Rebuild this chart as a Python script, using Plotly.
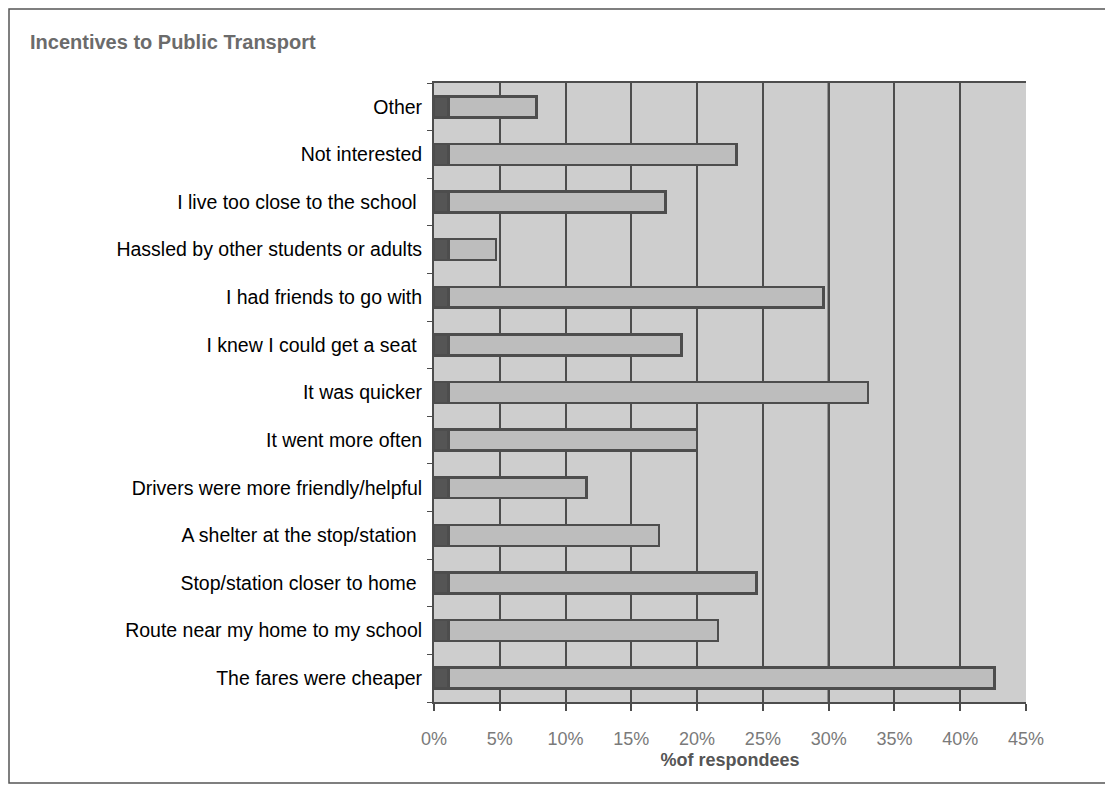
import plotly.graph_objects as go

categories = [
    "The fares were cheaper",
    "Route near my home to my school",
    "Stop/station closer to home ",
    "A shelter at the stop/station ",
    "Drivers were more friendly/helpful",
    "It went more often",
    "It was quicker",
    "I knew I could get a seat ",
    "I had friends to go with",
    "Hassled by other students or adults",
    "I live too close to the school ",
    "Not interested",
    "Other",
]
base_values = [1.1, 1.1, 1.1, 1.1, 1.1, 1.1, 1.1, 1.1, 1.1, 1.1, 1.1, 1.1, 1.1]
main_values = [41.5, 20.5, 23.4, 16.0, 10.5, 18.9, 31.9, 17.7, 28.5, 3.6, 16.5, 21.9, 6.7]
x_ticks = [0, 5, 10, 15, 20, 25, 30, 35, 40, 45]
x_tick_labels = ["0%", "5%", "10%", "15%", "20%", "25%", "30%", "35%", "40%", "45%"]

# page body has an 8px margin, so the figure is drawn 8px in from the window corner
W, H = 1105, 779
L, R, T, B = 426, 87, 75, 85
pw, ph = W - L - R, H - T - B

fig = go.Figure()
fig.add_trace(go.Bar(
    y=categories, x=base_values, orientation="h",
    marker=dict(color="#555555", line=dict(color="#4d4d4d", width=2.5)),
    showlegend=False, hoverinfo="skip",
))
fig.add_trace(go.Bar(
    y=categories, x=main_values, orientation="h",
    marker=dict(color="#bdbdbd", line=dict(color="#4d4d4d", width=2.5)),
    showlegend=False,
))

fig.update_layout(
    barmode="stack",
    bargap=0.56,
    width=W, height=H,
    margin=dict(l=L, r=R, t=T, b=B),
    paper_bgcolor="white",
    plot_bgcolor="#cecece",
    font=dict(family="Liberation Sans, Arial, sans-serif", color="#000000"),
    title=dict(
        text="<b>Incentives to Public Transport</b>",
        x=22 / W, xanchor="left", y=1 - 34 / H, yanchor="middle",
        font=dict(size=20, color="#6b6b6b"),
    ),
    xaxis=dict(
        range=[0, 45], tickmode="array", tickvals=x_ticks, ticktext=x_tick_labels,
        showgrid=True, gridcolor="#4d4d4d", gridwidth=2,
        showline=True, linecolor="#4d4d4d", linewidth=2, mirror=True,
        ticks="outside", ticklen=7, tickcolor="#4d4d4d", tickwidth=2,
        ticklabelstandoff=12,
        tickfont=dict(size=18, color="#7a7a7a"),
        title=dict(text="<b>%of respondees</b>", font=dict(size=18, color="#555555"), standoff=6),
        zeroline=False,
    ),
    yaxis=dict(
        type="category", categoryorder="array", categoryarray=categories,
        showgrid=False, showline=True, linecolor="#4d4d4d", linewidth=2,
        ticks="outside", tickson="boundaries", ticklen=5, tickcolor="#4d4d4d",
        tickfont=dict(size=19.5, color="#000000"),
        ticklabelstandoff=6,
    ),
    shapes=[
        dict(type="line", xref="x", yref="paper", x0=30, x1=30, y0=0, y1=1,
             line=dict(color="#1a1a1a", width=2), layer="below"),
        dict(type="rect", xref="paper", yref="paper",
             x0=(1 - L) / pw, x1=(W - 3 - L) / pw,
             y0=(ph + T - (H - 4)) / ph, y1=(ph + T - 1) / ph,
             line=dict(color="#555555", width=1.5), fillcolor="rgba(0,0,0,0)"),
    ],
)

fig.write_html("out.html")
